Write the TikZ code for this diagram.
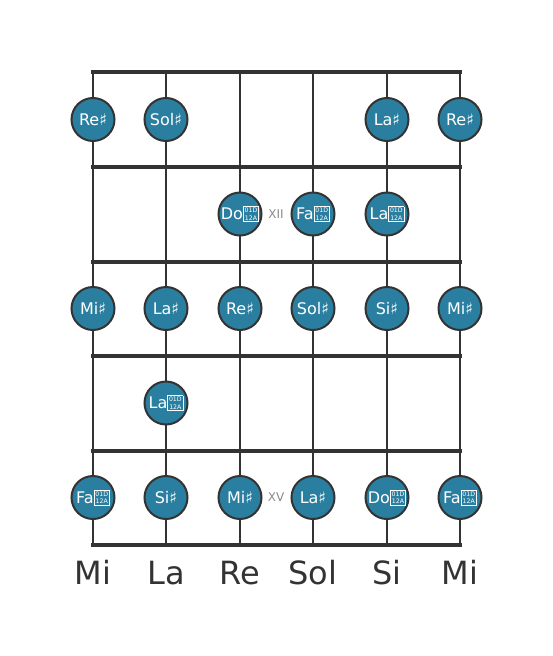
\documentclass[tikz,border=0pt]{standalone}
\usepackage{fontspec}
\setmainfont{DejaVu Sans}
\definecolor{notefill}{HTML}{2A7FA0}
\definecolor{darkline}{HTML}{333333}
\definecolor{markgray}{HTML}{8A8A8A}
% missing glyph box as printed for the double sharp
\newcommand{\dsbox}{\smash{\raisebox{-0.6pt}{\setlength{\fboxsep}{1.0pt}\setlength{\fboxrule}{0.7pt}%
    \fbox{\fontsize{6.2}{7.6}\selectfont\shortstack{01D\\12A}}}}}
\tikzset{ n/.style = { circle % note
        , line width = 2pt
        , draw = darkline
        , fill = notefill
        , minimum size = 43pt
        , inner sep = 0pt
        , text = white
        , font = \fontsize{16}{16}\selectfont
        }
        , m/.style = { rectangle % fret mark
        , inner sep = 0pt
        , text = markgray
        , font = \fontsize{12}{12}\selectfont
        }
        , s/.style = { rectangle % string name
        , anchor = base
        , inner sep = 0pt
        , text = darkline
        , font = \fontsize{32}{32}\selectfont
        }
        }

\begin{document}
\begin{tikzpicture}[x=1pt, y=1pt,
        string_style/.style={draw=darkline, line width=2.5pt},
        fret_style/.style={draw=darkline, line width=4pt, line cap=rect}]
        \useasboundingbox (0,0) rectangle (553,-656);

        \coordinate (t1) at (93,-72);  \coordinate (b1) at (93,-545);
        \coordinate (t2) at (166,-72); \coordinate (b2) at (166,-545);
        \coordinate (t3) at (240,-72); \coordinate (b3) at (240,-545);
        \coordinate (t4) at (313,-72); \coordinate (b4) at (313,-545);
        \coordinate (t5) at (387,-72); \coordinate (b5) at (387,-545);
        \coordinate (t6) at (460,-72); \coordinate (b6) at (460,-545);
        \coordinate (f1l) at (93,-167);   \coordinate (f1r) at (460,-167);
        \coordinate (f2l) at (93,-261.5); \coordinate (f2r) at (460,-261.5);
        \coordinate (f3l) at (93,-356);   \coordinate (f3r) at (460,-356);
        \coordinate (f4l) at (93,-450.5); \coordinate (f4r) at (460,-450.5);

        \draw [string_style] (t1) -- (b1);
        \draw [string_style] (t2) -- (b2);
        \draw [string_style] (t3) -- (b3);
        \draw [string_style] (t4) -- (b4);
        \draw [string_style] (t5) -- (b5);
        \draw [string_style] (t6) -- (b6);
        \draw [fret_style] (t1) -- (t6);
        \draw [fret_style] (f1l) -- (f1r);
        \draw [fret_style] (f2l) -- (f2r);
        \draw [fret_style] (f3l) -- (f3r);
        \draw [fret_style] (f4l) -- (f4r);
        \draw [fret_style] (b1) -- (b6);

        \node [n](n11) at (93,-119.5) {Re♯};
        \node [n](n12) at (166,-119.5) {Sol♯};
        \node [n](n15) at (387,-119.5) {La♯};
        \node [n](n16) at (460,-119.5) {Re♯};

        \node [n](n23) at (240,-214) {Do\dsbox};
        \node [m](x12) at (276,-214) {XII};
        \node [n](n24) at (313,-214) {Fa\dsbox};
        \node [n](n25) at (387,-214) {La\dsbox};

        \node [n](n31) at (93,-308.5) {Mi♯};
        \node [n](n32) at (166,-308.5) {La♯};
        \node [n](n33) at (240,-308.5) {Re♯};
        \node [n](n34) at (313,-308.5) {Sol♯};
        \node [n](n35) at (387,-308.5) {Si♯};
        \node [n](n36) at (460,-308.5) {Mi♯};

        \node [n](n42) at (166,-403) {La\dsbox};

        \node [n](n51) at (93,-497.5) {Fa\dsbox};
        \node [n](n52) at (166,-497.5) {Si♯};
        \node [n](n53) at (240,-497.5) {Mi♯};
        \node [m](x15) at (276,-497.5) {XV};
        \node [n](n54) at (313,-497.5) {La♯};
        \node [n](n55) at (387,-497.5) {Do\dsbox};
        \node [n](n56) at (460,-497.5) {Fa\dsbox};

        \node [s](l1) at (93,-584) {Mi};
        \node [s](l2) at (166,-584) {La};
        \node [s](l3) at (240,-584) {Re};
        \node [s](l4) at (313,-584) {Sol};
        \node [s](l5) at (387,-584) {Si};
        \node [s](l6) at (460,-584) {Mi};
        \end{tikzpicture}
\end{document}
